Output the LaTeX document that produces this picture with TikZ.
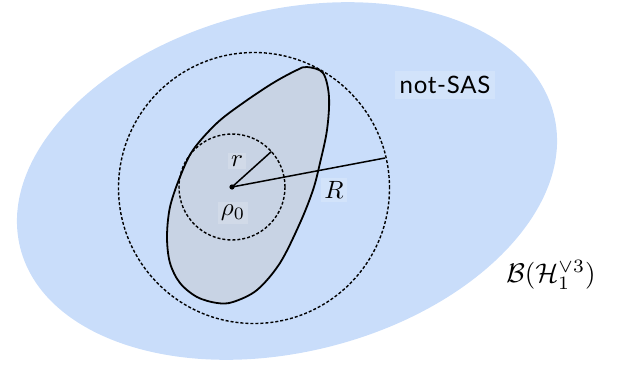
\documentclass[tikz,border=0pt]{standalone}
\usepackage{fontspec}
\usetikzlibrary{calc}
\newfontfamily\labelsans[LetterSpace=3]{Lato}
\definecolor{bgblue}{RGB}{201,221,250}
\definecolor{blobgray}{RGB}{200,211,228}
\tikzset{
  dashcircle/.style={draw=black, line width=1.4pt, dash pattern=on 3pt off 2pt},
  radline/.style={draw=black, line width=1.5pt},
  lbl/.style={fill=white, fill opacity=0.18, text opacity=1, inner sep=1.2pt, scale=2.5},
}
\begin{document}
\begin{tikzpicture}[x=1pt,y=1pt]
\useasboundingbox (0,0) rectangle (618,368);
% big set
\fill[bgblue, rotate around={14:(287,187)}] (287,187) ellipse [x radius=275, y radius=171];
% blob
\filldraw[fill=blobgray, draw=black, line width=1.8pt]
  plot[smooth cycle, tension=0.55] coordinates {
   (307,301) (323,295) (329,271) (327,238) (320,205) (313,178) (300,145)
   (280,105) (257,78) (233,66) (217,65) (197,71) (180,85) (170,105)
   (167,131) (170,161) (180,191) (193,218) (217,245) (243,265) (273,285) (297,298)};
% circles
\coordinate (rho) at (232,181);
\coordinate (C) at (254,180);
\draw[dashcircle] (C) circle [radius=135.5];
\draw[dashcircle] (rho) circle [radius=53];
\coordinate (rend) at ($(rho)+(42:53)$);
\coordinate (Rend) at (385,210);
\draw[radline] (rho) -- (rend);
\draw[radline] (rho) -- (Rend);
\fill[black] (rho) circle [radius=2.6];
% labels
\node[lbl] (lr) at (237,207) {$r$};
\node[lbl] (lrho) at (233,155) {$\rho_0$};
\node[lbl] (lR) at (334,178) {$R$};
\node[fill=white, fill opacity=0.18, text opacity=1, inner sep=5pt, font=\labelsans\fontsize{24}{28}\selectfont] (ns) at (445,283) {not-SAS};
\node[scale=2.7] (lB) at (551,93) {$\mathcal{B}(\mathcal{H}_1^{\vee 3})$};
\end{tikzpicture}
\end{document}
